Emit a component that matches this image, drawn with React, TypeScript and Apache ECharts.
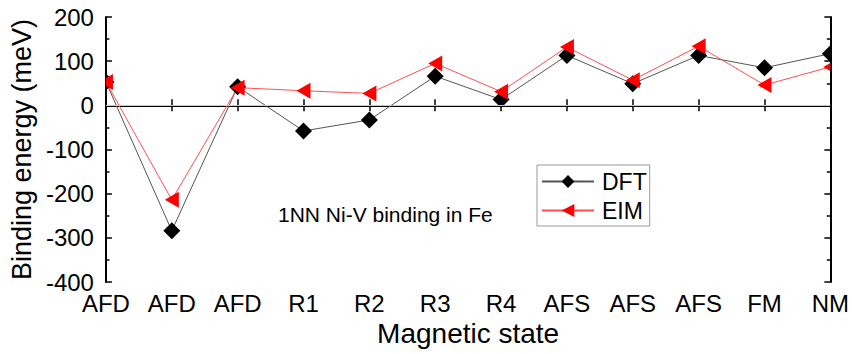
import React, { useEffect, useRef } from "react";
import * as echarts from "echarts";

const categories = ["AFD", "AFD", "AFD", "R1", "R2", "R3", "R4", "AFS", "AFS", "AFS", "FM", "NM"];
const dftValues = [53, -284, 42, -58, -33, 66, 13, 113, 49, 113, 85, 117];
const eimValues = [53, -214, 40, 33, 27, 95, 31, 132, 57, 134, 46, 87];
const yTicks = { min: -400, max: 200, interval: 100 };
const annotation = "1NN Ni-V binding in Fe";

const FONT = "Liberation Sans, Arial, sans-serif";

const pairs = (vals: number[]) => vals.map((v, i) => [i, v]);
const noSymbol = (vals: number[]) => vals.map((v) => ({ value: v, symbol: "none" }));

// Sutherland-Hodgman clip of a polygon to the vertical band [xmin, xmax]
function clipX(points: number[][], xmin: number, xmax: number) {
  const clipEdge = (pts: number[][], inside: (p: number[]) => boolean, edgeX: number) => {
    const out: number[][] = [];
    for (let i = 0; i < pts.length; i++) {
      const a = pts[i];
      const b = pts[(i + 1) % pts.length];
      const ain = inside(a), bin = inside(b);
      if (ain) out.push(a);
      if (ain !== bin) {
        const t = (edgeX - a[0]) / (b[0] - a[0]);
        out.push([edgeX, a[1] + t * (b[1] - a[1])]);
      }
    }
    return out;
  };
  let res = clipEdge(points, (p) => p[0] >= xmin, xmin);
  res = clipEdge(res, (p) => p[0] <= xmax, xmax);
  return res;
}

function diamondItem(params: any, api: any) {
  const p = api.coord([api.value(0), api.value(1)]);
  const h = 8.5;
  const cs = params.coordSys;
  const pts = clipX([[p[0], p[1] - h], [p[0] + h, p[1]], [p[0], p[1] + h], [p[0] - h, p[1]]], cs.x, cs.x + cs.width);
  return { type: "polygon", shape: { points: pts }, style: { fill: "#000" } };
}

function triangleLeftItem(params: any, api: any) {
  const p = api.coord([api.value(0), api.value(1)]);
  const w = 7, h = 8;
  const cs = params.coordSys;
  const pts = clipX([[p[0] - w, p[1]], [p[0] + w, p[1] - h], [p[0] + w, p[1] + h]], cs.x, cs.x + cs.width);
  return { type: "polygon", shape: { points: pts }, style: { fill: "#ff0000" } };
}

export default function App() {
  const ref = useRef<HTMLDivElement>(null);
  useEffect(() => {
    if (!ref.current) return;
    const chart = echarts.init(ref.current, null, { renderer: "svg" });
    const axisLine = { show: true, lineStyle: { color: "#000", width: 2 } };
    chart.setOption({
      animation: false,
      backgroundColor: "#fff",
      textStyle: { fontFamily: FONT },
      grid: { left: 103, right: 21, top: 17, bottom: 72 },
      xAxis: [
        {
          type: "category",
          data: categories,
          boundaryGap: false,
          position: "bottom",
          name: "Magnetic state",
          nameLocation: "middle",
          nameGap: 36,
          nameTextStyle: { fontSize: 28, color: "#000", fontFamily: FONT },
          axisLine,
          axisTick: { show: true, inside: true, length: 6, alignWithLabel: true, lineStyle: { color: "#000", width: 1.5 } },
          axisLabel: { fontSize: 24, color: "#000", margin: 9, interval: 0, fontFamily: FONT },
          splitLine: { show: false },
        },
        {
          type: "category",
          data: categories,
          boundaryGap: false,
          position: "top",
          axisLine,
          axisTick: { show: true, inside: true, length: 6, lineStyle: { color: "#000", width: 1.5 } },
          axisLabel: { show: false },
          splitLine: { show: false },
        },
      ],
      yAxis: [
        {
          type: "value",
          min: yTicks.min,
          max: yTicks.max,
          interval: yTicks.interval,
          position: "left",
          name: "Binding energy (meV)",
          nameLocation: "middle",
          nameGap: 64,
          nameTextStyle: { fontSize: 27, color: "#000", fontFamily: FONT },
          axisLine,
          axisTick: { show: true, inside: true, length: 6, lineStyle: { color: "#000", width: 1.5 } },
          minorTick: { show: true, splitNumber: 2, length: 3.5, lineStyle: { color: "#000", width: 1.5 } },
          axisLabel: { fontSize: 24, color: "#000", margin: 12, fontFamily: FONT },
          splitLine: { show: false },
        },
        {
          type: "value",
          min: yTicks.min,
          max: yTicks.max,
          interval: yTicks.interval,
          position: "right",
          axisLine,
          axisTick: { show: true, inside: true, length: 6, lineStyle: { color: "#000", width: 1.5 } },
          minorTick: { show: true, splitNumber: 2, length: 3.5, lineStyle: { color: "#000", width: 1.5 } },
          axisLabel: { show: false },
          splitLine: { show: false },
        },
      ],
      legend: {
        orient: "vertical",
        left: 537,
        top: 165,
        padding: [5, 3, 4, 4],
        itemGap: 6,
        itemWidth: 52,
        itemHeight: 16,
        borderColor: "#999",
        borderWidth: 1,
        textStyle: { fontSize: 23, color: "#000", fontFamily: FONT, padding: [0, 0, 0, 3] },
        data: ["DFT", "EIM"],
      },
      graphic: [
        {
          type: "text",
          left: 278,
          top: 204,
          style: { text: annotation, fontSize: 21, fill: "#000", fontFamily: FONT },
        },
      ],
      series: [
        {
          name: "DFT",
          type: "line",
          data: noSymbol(dftValues),
          symbol: "diamond",
          symbolSize: 17,
          lineStyle: { color: "#555", width: 1 },
          itemStyle: { color: "#000" },
          z: 2,
          markLine: {
            silent: true,
            symbol: "none",
            label: { show: false },
            lineStyle: { color: "#c8c8c8", type: "solid", width: 1 },
            data: [{ yAxis: 0 }],
          },
        },
        {
          name: "EIM",
          type: "line",
          data: noSymbol(eimValues),
          symbol: "triangle",
          symbolRotate: 90,
          symbolSize: 16,
          lineStyle: { color: "#ff5050", width: 1 },
          itemStyle: { color: "#ff0000" },
          z: 2,
        },
        {
          name: "DFT markers",
          type: "custom",
          data: pairs(dftValues),
          encode: { x: 0, y: 1 },
          clip: true,
          renderItem: diamondItem,
          silent: true,
          z: 3,
        },
        {
          name: "EIM markers",
          type: "custom",
          data: pairs(eimValues),
          encode: { x: 0, y: 1 },
          clip: true,
          renderItem: triangleLeftItem,
          silent: true,
          z: 4,
        },
      ],
    });
    return () => chart.dispose();
  }, []);
  return <div ref={ref} style={{ position: "fixed", left: 0, top: 0, width: 852, height: 354 }} />;
}
